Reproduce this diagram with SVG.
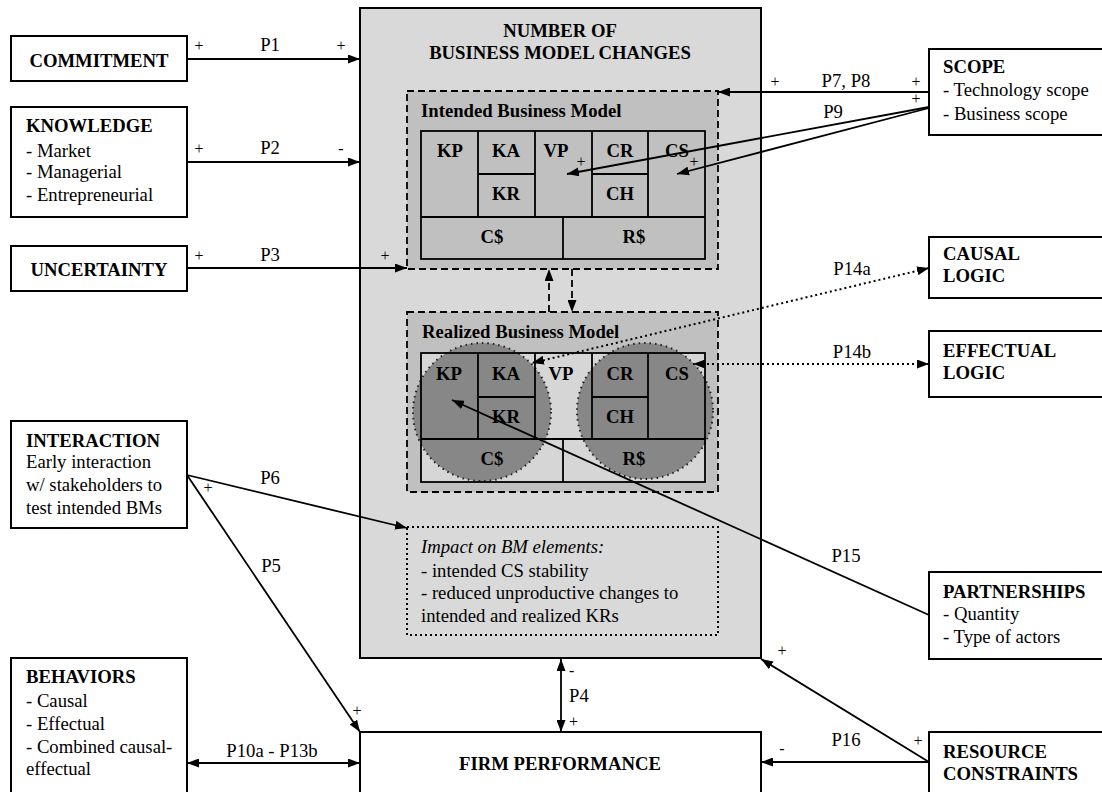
<svg xmlns="http://www.w3.org/2000/svg" width="1102" height="792" viewBox="0 0 1102 792">
<style>
text{font-family:"Liberation Serif","Times New Roman",serif;font-size:18.7px;fill:#000}
.b{font-weight:bold}
.m{text-anchor:middle}
.s{font-size:16px}
.i{font-style:italic}
.box{fill:#fff;stroke:#000;stroke-width:2}
.ln{fill:none;stroke:#000;stroke-width:1.8}
.dot{fill:none;stroke:#000;stroke-width:2;stroke-dasharray:2 3}
.dash{fill:none;stroke:#000;stroke-width:1.8;stroke-dasharray:7 4}
.cellI{fill:#c0c0c0;stroke:#000;stroke-width:1.8}
.gl{fill:none;stroke:#000;stroke-width:1.8}
.circ{fill:#878787;stroke:#222;stroke-width:2;stroke-dasharray:1.5 4}
</style>
<defs>
<marker id="ah" viewBox="0 0 12 9" refX="12" refY="4.5" markerWidth="12" markerHeight="9" markerUnits="userSpaceOnUse" orient="auto-start-reverse">
<path d="M0,0 L12,4.5 L0,9 z" fill="#000"/>
</marker>
</defs>

<g id="bm-changes">
<rect x="360" y="8" width="401" height="650" fill="#d9d9d9" stroke="#000" stroke-width="2"/>
<text class="b m" x="560" y="37">NUMBER OF</text>
<text class="b m" x="560" y="59">BUSINESS MODEL CHANGES</text>
</g>

<g id="intended-bm">
<rect x="407" y="91" width="311" height="178" fill="#c0c0c0"/>
<rect x="407" y="91" width="311" height="178" class="dash"/>
<text class="b" x="421" y="117">Intended Business Model</text>
<rect x="421" y="131" width="284" height="128" class="cellI"/>
<path class="gl" d="M478,131V217 M535,131V217 M592,131V217 M648,131V217 M478,174H535 M592,174H648 M421,217H705 M563,217V259"/>
<text class="b m" x="450" y="157">KP</text>
<text class="b m" x="506" y="157">KA</text>
<text class="b m" x="556" y="157">VP</text>
<text class="b m" x="620" y="157">CR</text>
<text class="b m" x="677" y="157">CS</text>
<text class="b m" x="506" y="200">KR</text>
<text class="b m" x="620" y="200">CH</text>
<text class="b m" x="492" y="243">C$</text>
<text class="b m" x="634" y="243">R$</text>
</g>

<g id="realized-bm">
<rect x="407" y="312" width="311" height="180" fill="#c0c0c0"/>
<rect x="407" y="312" width="311" height="180" class="dash"/>
<text class="b" x="422" y="338">Realized Business Model</text>
<rect x="421" y="353" width="284" height="129" fill="#d6d6d6"/>
<circle cx="482" cy="412" r="69" class="circ"/>
<circle cx="645" cy="411" r="68" class="circ"/>
<rect x="421" y="353" width="284" height="129" class="gl"/>
<path class="gl" d="M478,353V439 M535,353V439 M592,353V439 M648,353V439 M478,397H535 M592,397H648 M421,439H705 M563,439V482"/>
<text class="b m" x="449" y="380">KP</text>
<text class="b m" x="506" y="380">KA</text>
<text class="b m" x="561" y="380">VP</text>
<text class="b m" x="620" y="380">CR</text>
<text class="b m" x="677" y="380">CS</text>
<text class="b m" x="506" y="423">KR</text>
<text class="b m" x="620" y="423">CH</text>
<text class="b m" x="492" y="465">C$</text>
<text class="b m" x="634" y="465">R$</text>
</g>

<g id="impact">
<rect x="407" y="527" width="311" height="108" class="dot" stroke-width="1.8"/>
<text class="i" x="421" y="553">Impact on BM elements:</text>
<text x="421" y="577">- intended CS stability</text>
<text x="421" y="599">- reduced unproductive changes to</text>
<text x="421" y="622">intended and realized KRs</text>
</g>

<g id="commitment">
<rect x="11" y="36" width="176" height="45" class="box"/>
<text class="b m" x="99" y="67">COMMITMENT</text>
</g>
<g id="knowledge">
<rect x="11" y="107" width="176" height="110" class="box"/>
<text class="b" x="26" y="132">KNOWLEDGE</text>
<text x="26" y="157">- Market</text>
<text x="26" y="178">- Managerial</text>
<text x="26" y="201">- Entrepreneurial</text>
</g>
<g id="uncertainty">
<rect x="11" y="246" width="176" height="45" class="box"/>
<text class="b m" x="99" y="276">UNCERTAINTY</text>
</g>
<g id="interaction">
<rect x="11" y="421" width="176" height="107" class="box"/>
<text class="b" x="26" y="447">INTERACTION</text>
<text x="26" y="468">Early interaction</text>
<text x="26" y="491">w/ stakeholders to</text>
<text x="26" y="514">test intended BMs</text>
</g>
<g id="behaviors">
<rect x="11" y="658" width="176" height="150" class="box"/>
<text class="b" x="26" y="683">BEHAVIORS</text>
<text x="26" y="707">- Causal</text>
<text x="26" y="730">- Effectual</text>
<text x="26" y="753">- Combined causal-</text>
<text x="26" y="775">effectual</text>
</g>
<g id="firm-performance">
<rect x="360" y="732" width="401" height="80" class="box"/>
<text class="b m" x="560" y="770">FIRM PERFORMANCE</text>
</g>
<g id="scope">
<rect x="929" y="49" width="175" height="86" class="box"/>
<text class="b" x="943" y="73">SCOPE</text>
<text x="943" y="96">- Technology scope</text>
<text x="943" y="120">- Business scope</text>
</g>
<g id="causal-logic">
<rect x="929" y="237" width="175" height="61" class="box"/>
<text class="b" x="943" y="260">CAUSAL</text>
<text class="b" x="943" y="282">LOGIC</text>
</g>
<g id="effectual-logic">
<rect x="929" y="331" width="175" height="66" class="box"/>
<text class="b" x="943" y="357">EFFECTUAL</text>
<text class="b" x="943" y="379">LOGIC</text>
</g>
<g id="partnerships">
<rect x="929" y="572" width="175" height="87" class="box"/>
<text class="b" x="943" y="598">PARTNERSHIPS</text>
<text x="943" y="620">- Quantity</text>
<text x="943" y="643">- Type of actors</text>
</g>
<g id="resource-constraints">
<rect x="929" y="732" width="175" height="80" class="box"/>
<text class="b" x="943" y="758">RESOURCE</text>
<text class="b" x="943" y="780">CONSTRAINTS</text>
</g>

<g id="connectors">
<path class="ln" d="M187,59H360" marker-end="url(#ah)"/>
<text class="s m" x="199" y="51">+</text>
<text class="m" x="270" y="51">P1</text>
<text class="s m" x="341" y="51">+</text>

<path class="ln" d="M187,162H360" marker-end="url(#ah)"/>
<text class="s m" x="199" y="154">+</text>
<text class="m" x="270" y="154">P2</text>
<text class="s m" x="341" y="154">-</text>

<path class="ln" d="M187,268H407" marker-end="url(#ah)"/>
<text class="s m" x="199" y="261">+</text>
<text class="m" x="270" y="261">P3</text>
<text class="s m" x="385" y="261">+</text>

<path class="dash" d="M549,312V269" marker-end="url(#ah)"/>
<path class="dash" d="M572,269V312" marker-end="url(#ah)"/>

<path class="ln" d="M929,92H718" marker-end="url(#ah)"/>
<text class="s m" x="775" y="87">+</text>
<text class="m" x="846" y="87">P7, P8</text>
<text class="s m" x="916" y="87">+</text>
<text class="s m" x="916" y="104">+</text>
<text class="m" x="833" y="118">P9</text>
<path class="ln" d="M929,107L567,174" marker-end="url(#ah)"/>
<path class="ln" d="M929,108L677,174" marker-end="url(#ah)"/>
<text class="s m" x="581" y="167">+</text>
<text class="s m" x="694" y="167">+</text>

<path class="dot" d="M929,268L532,363" marker-start="url(#ah)" marker-end="url(#ah)"/>
<text class="m" x="852" y="275">P14a</text>
<path class="dot" d="M929,364H693" marker-start="url(#ah)" marker-end="url(#ah)"/>
<text class="m" x="852" y="358">P14b</text>

<path class="ln" d="M929,615L452,400" marker-end="url(#ah)"/>
<text class="m" x="846" y="562">P15</text>

<path class="ln" d="M187,475L407,528" marker-end="url(#ah)"/>
<text class="m" x="270" y="484">P6</text>
<text class="s m" x="208" y="493">+</text>
<path class="ln" d="M187,475L360,732" marker-end="url(#ah)"/>
<text class="m" x="271" y="572">P5</text>
<text class="s m" x="357" y="716">+</text>

<path class="ln" d="M187,763H360" marker-start="url(#ah)" marker-end="url(#ah)"/>
<text class="m" x="272" y="757">P10a - P13b</text>

<path class="ln" d="M561,659V732" marker-start="url(#ah)" marker-end="url(#ah)"/>
<text class="s" x="569" y="676">-</text>
<text x="569" y="702">P4</text>
<text class="s" x="569" y="727">+</text>

<path class="ln" d="M929,762H761" marker-end="url(#ah)"/>
<text class="s m" x="782" y="754">-</text>
<text class="m" x="846" y="746">P16</text>
<text class="s m" x="918" y="746">+</text>
<path class="ln" d="M929,762L761,659" marker-end="url(#ah)"/>
<text class="s m" x="782" y="656">+</text>
</g>
</svg>
